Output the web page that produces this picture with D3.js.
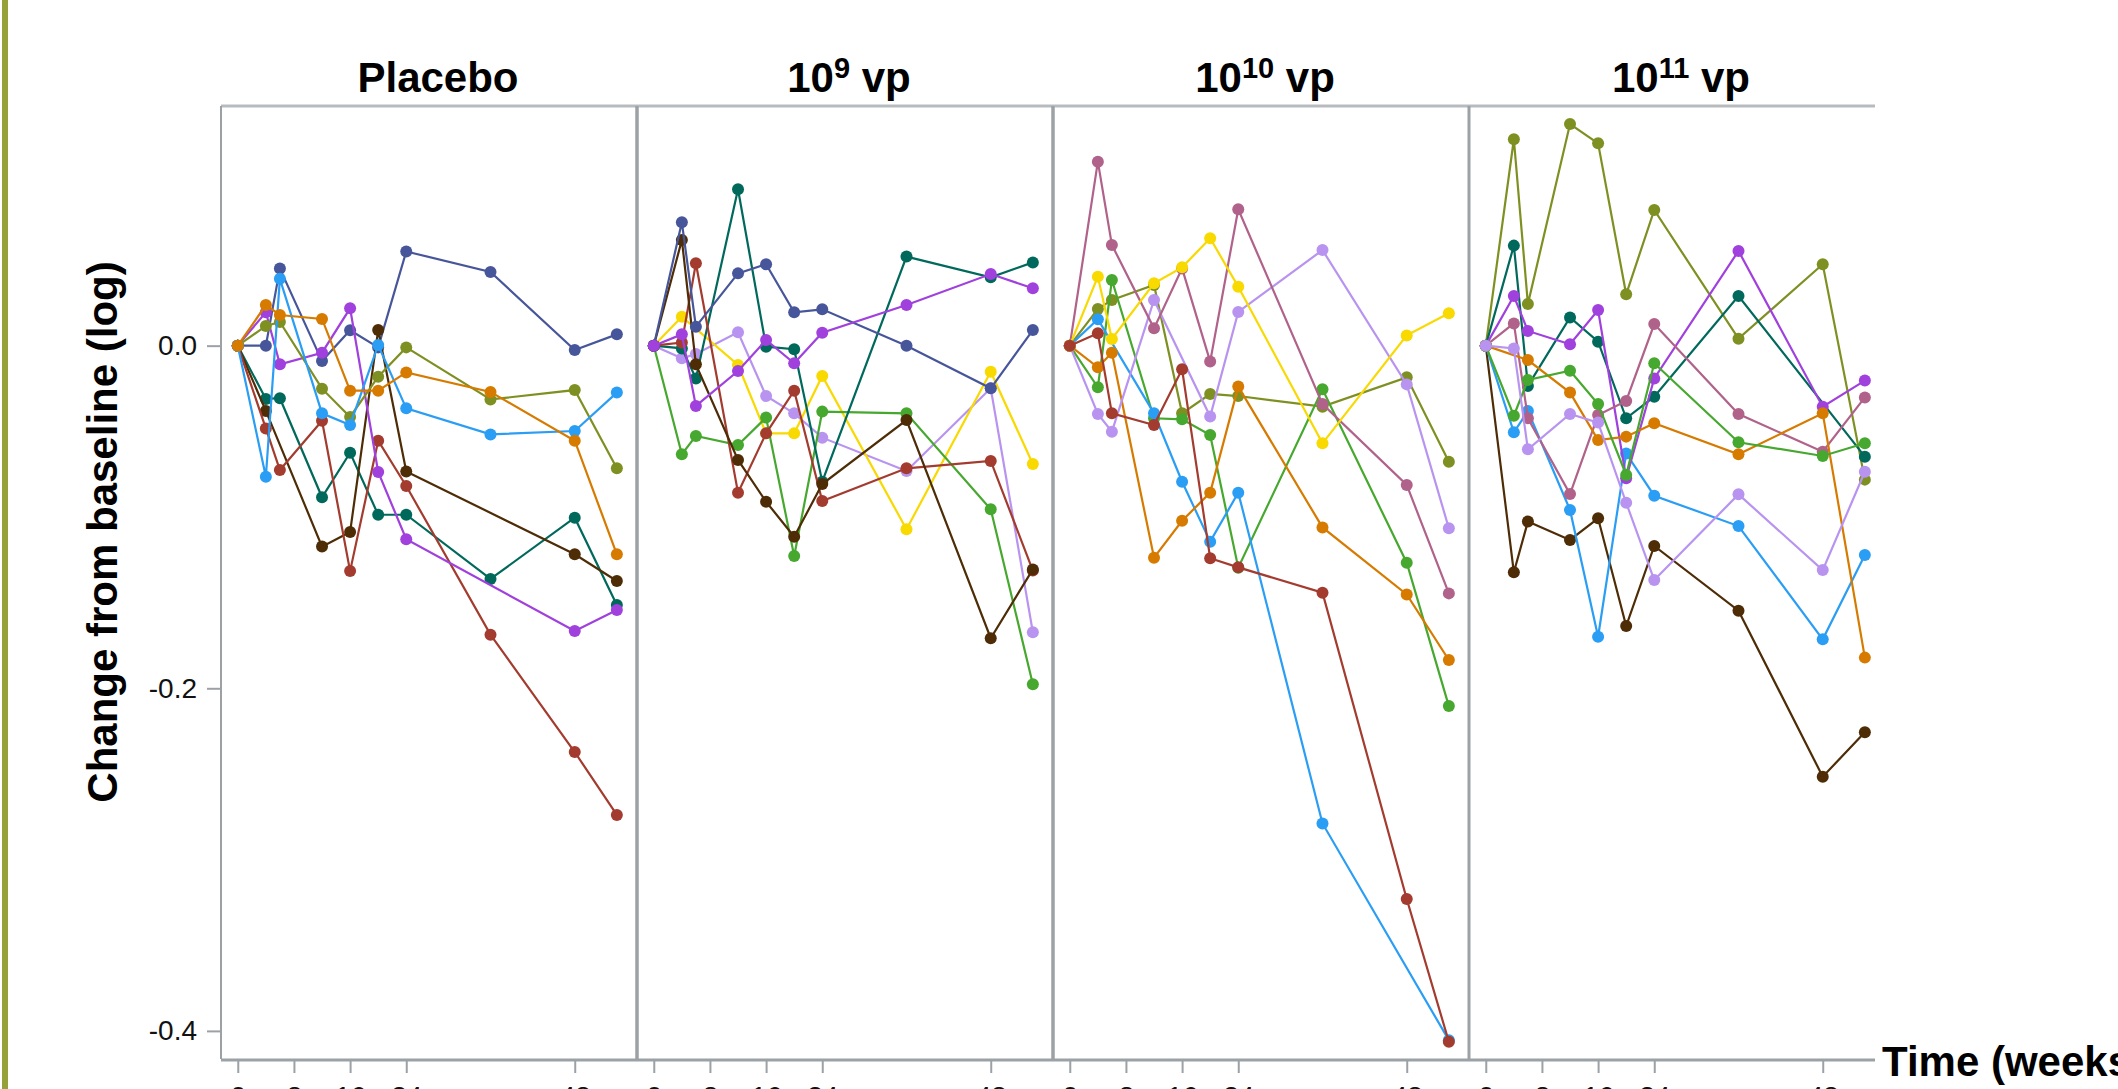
<!doctype html>
<html lang="en">
<head>
<meta charset="UTF-8" />
<title>Change from baseline</title>
<script src="https://d3js.org/d3.v7.min.js"></script>
<style>
    body, html {
        margin: 0;
        padding: 0;
        background: #ffffff;
        overflow: hidden;
    }
    svg {
        display: block;
        font-family: "Liberation Sans", Arial, sans-serif;
    }
</style>
</head>
<body>
<svg id="chart" width="2118" height="1089"></svg>
<script>
    // time points (weeks) shared by every subject
    const weeks = [0, 4, 6, 12, 16, 20, 24, 36, 48, 54];
    const xTicks = [0, 8, 16, 24, 48];
    const yTicks = [0, -0.2, -0.4];

    const panelNames = ["Placebo", "10", "10", "10"];
    const panelExponents = [null, "9", "10", "11"];

    // one entry per subject: [subject key, change from baseline per week]
    const placebo = [
        ["A", [0, 0, 0.045, -0.009, 0.009, -0.001, 0.055, 0.043, -0.0025, 0.0066]],
        ["F", [0, -0.0311, -0.0307, -0.0885, -0.0625, -0.0987, -0.0987, -0.1362, -0.1004, -0.1514]],
        ["G", [0, -0.0381, null, -0.1173, -0.1088, 0.0091, -0.0734, null, -0.1218, -0.1374]],
        ["H", [0, -0.0483, -0.0726, -0.0438, -0.1316, -0.0555, -0.0819, -0.1687, -0.2372, -0.2739]],
        ["E", [0, 0.0195, -0.0109, -0.0041, 0.0218, -0.0737, -0.113, null, -0.1666, -0.1543]],
        ["D", [0, 0.0115, 0.0138, -0.0251, -0.0416, -0.0181, -0.001, -0.0314, -0.0259, -0.0716]],
        ["B", [0, -0.0765, 0.039, -0.0395, -0.0463, 0.0004, -0.0366, -0.0518, -0.0498, -0.0274]],
        ["C", [0, 0.0237, 0.0179, 0.0156, -0.0263, -0.0263, -0.0156, -0.027, -0.0555, -0.1218]]
    ];

    const dose9 = [
        ["K", [0, -0.0074, -0.0049, 0.0078, -0.0294, -0.0395, -0.0537, -0.0732, -0.0249, -0.1673]],
        ["J", [0, 0.0169, null, -0.0113, -0.0512, -0.0512, -0.0177, -0.1072, -0.0152, -0.0691]],
        ["I", [0, -0.0634, -0.0527, -0.058, -0.042, -0.1228, -0.0385, -0.0395, -0.0955, -0.1977]],
        ["F", [0, -0.0016, -0.0191, 0.0913, -0.0006, -0.0021, -0.0794, 0.052, 0.0399, 0.0486]],
        ["H", [0, 0.0018, 0.0481, -0.0858, -0.0512, -0.0263, -0.0907, -0.0716, -0.0673, -0.1313]],
        ["G", [0, 0.0617, -0.0109, -0.0667, -0.0911, -0.1115, -0.0808, -0.0434, -0.1708, -0.1306]],
        ["A", [0, 0.072, 0.0111, 0.0422, 0.0475, 0.0195, 0.0212, 0, -0.0249, 0.0091]],
        ["E", [0, 0.0066, -0.0352, -0.0148, 0.0033, -0.0103, 0.0076, 0.0237, 0.0418, 0.0335]]
    ];

    const dose10 = [
        ["D", [0, 0.0214, 0.0267, 0.0354, -0.0395, -0.0282, -0.0294, -0.0356, -0.0185, -0.0677]],
        ["I", [0, -0.0243, 0.0383, -0.0424, -0.043, -0.0522, -0.1296, -0.0255, -0.1267, -0.2104]],
        ["B", [0, 0.0154, null, -0.0395, -0.0794, -0.1144, -0.0858, -0.2789, null, -0.4054]],
        ["C", [0, -0.0126, -0.0041, -0.1238, -0.1022, -0.0858, -0.0239, -0.1061, -0.1452, -0.1835]],
        ["K", [0, -0.0399, -0.0502, 0.0267, null, -0.0414, 0.0197, 0.0558, -0.0226, -0.1066]],
        ["L", [0, 0.1074, 0.0588, 0.0101, 0.0451, -0.0093, 0.0796, -0.0341, -0.0813, -0.1446]],
        ["J", [0, 0.0403, 0.0039, 0.0364, 0.0457, 0.0627, 0.0344, -0.057, 0.006, 0.0189]],
        ["H", [0, 0.0072, -0.0395, -0.0463, -0.0138, -0.1241, -0.1294, -0.1442, -0.323, -0.4063]]
    ];

    const dose11 = [
        ["G", [0, -0.1323, -0.1027, -0.1134, -0.1008, -0.1637, -0.1169, -0.1547, -0.2516, -0.2257]],
        ["B", [0, -0.0506, -0.0382, -0.0959, -0.1699, -0.0629, -0.0876, -0.1053, -0.1714, -0.1222]],
        ["D", [0, 0.1205, 0.0243, 0.1294, 0.1181, 0.03, 0.0792, 0.0041, 0.0475, -0.0782]],
        ["F", [0, 0.0584, -0.0235, 0.0165, 0.0023, -0.0424, -0.0298, 0.029, null, -0.0648]],
        ["E", [0, 0.029, 0.0086, 0.0008, 0.0208, -0.0774, -0.0191, 0.0553, -0.0356, -0.0204]],
        ["L", [0, 0.013, -0.0424, -0.0866, -0.0405, -0.0323, 0.0126, -0.0399, -0.0619, -0.0302]],
        ["C", [0, null, -0.0084, -0.0274, -0.0551, -0.0531, -0.0453, -0.0634, -0.0395, -0.1821]],
        ["I", [0, -0.0409, -0.02, -0.0146, -0.0341, -0.0755, -0.0103, -0.0564, -0.0644, -0.057]],
        ["K", [0, -0.0016, -0.0605, -0.0399, -0.0449, -0.0917, -0.1368, -0.0868, -0.131, -0.0736]]
    ];

    const panels = [placebo, dose9, dose10, dose11];

    const palette = {
        A: "#47569a",
        B: "#2a9df4",
        C: "#d67b00",
        D: "#7f9022",
        E: "#a040dd",
        F: "#00695c",
        G: "#4e2c06",
        H: "#a33b2f",
        I: "#46a82e",
        J: "#f8d900",
        K: "#b894f0",
        L: "#b0628a"
    };

    const svg = d3.select("#chart");
    const panelLeft = 221;
    const panelWidth = 416;
    const plotTop = 106;
    const plotBottom = 1059;
    const frame = "#9ca1a6";

    const x = d3.scaleLinear().domain([-2.39, 56.87]).range([0, panelWidth]);
    const y = d3.scaleLinear().domain([0.1399, -0.4164]).range([plotTop, plotBottom]);

    // olive strip on the left edge
    svg.append("rect")
        .attr("x", 2).attr("y", 0)
        .attr("width", 6).attr("height", 1089)
        .attr("fill", "#97a13a");

    // y axis
    const yAxis = svg.append("g")
        .attr("transform", `translate(${panelLeft},0)`)
        .call(d3.axisLeft(y).tickValues(yTicks).tickSize(14).tickPadding(10)
            .tickFormat(d => d.toFixed(1)));
    yAxis.select(".domain").remove();
    yAxis.selectAll("line").attr("stroke", frame).attr("stroke-width", 2);
    yAxis.selectAll("text").attr("font-size", 28).attr("fill", "#111");

    svg.append("text")
        .attr("transform", `translate(117,532) rotate(-90)`)
        .attr("text-anchor", "middle")
        .attr("font-size", 42)
        .attr("font-weight", "bold")
        .text("Change from baseline (log)");

    const line = d3.line()
        .x(d => x(d.t))
        .y(d => y(d.v));

    panels.forEach((subjects, i) => {
        const g = svg.append("g")
            .attr("transform", `translate(${panelLeft + i * panelWidth},0)`);
        const w = i === 3 ? 406 : panelWidth;

        // strip label
        const label = g.append("text")
            .attr("x", panelWidth / 2 + (i === 0 ? 9 : 4))
            .attr("y", 92)
            .attr("text-anchor", "middle")
            .attr("font-size", 42)
            .attr("font-weight", "bold")
            .text(panelNames[i]);
        if (panelExponents[i]) {
            label.append("tspan")
                .attr("font-size", 29)
                .attr("dy", -14)
                .text(panelExponents[i]);
            label.append("tspan")
                .attr("dy", 14)
                .text(" vp");
        }

        // frame
        g.append("line")
            .attr("x1", 0).attr("x2", w)
            .attr("y1", plotTop).attr("y2", plotTop)
            .attr("stroke", "#b8bbbe").attr("stroke-width", 3);
        g.append("line")
            .attr("x1", 0).attr("x2", 0)
            .attr("y1", plotTop).attr("y2", plotBottom)
            .attr("stroke", frame).attr("stroke-width", i === 0 ? 2 : 3);
        if (i < 2) {
            g.append("line")
                .attr("x1", panelWidth).attr("x2", panelWidth)
                .attr("y1", plotTop).attr("y2", plotBottom)
                .attr("stroke", frame).attr("stroke-width", 3);
        }

        // x axis
        const xAxis = g.append("g")
            .attr("transform", `translate(0,${plotBottom + 1})`)
            .call(d3.axisBottom(x).tickValues(xTicks).tickSize(13).tickPadding(13));
        xAxis.select(".domain").remove();
        xAxis.selectAll("line").attr("stroke", frame).attr("stroke-width", 2);
        xAxis.selectAll("text").attr("font-size", 28).attr("fill", "#111");
        g.append("line")
            .attr("x1", 0).attr("x2", w)
            .attr("y1", plotBottom + 1).attr("y2", plotBottom + 1)
            .attr("stroke", frame).attr("stroke-width", 3);

        subjects.forEach(([key, values]) => {
            const present = weeks
                .map((t, k) => ({ t: t, v: values[k] }))
                .filter(d => d.v !== null);
            g.append("path")
                .datum(present)
                .attr("fill", "none")
                .attr("stroke", palette[key])
                .attr("stroke-width", 2.2)
                .attr("d", line);
            g.selectAll(null)
                .data(present)
                .enter()
                .append("circle")
                .attr("cx", d => x(d.t))
                .attr("cy", d => y(d.v))
                .attr("r", 6)
                .attr("fill", palette[key]);
        });
    });

    svg.append("text")
        .attr("x", 1882)
        .attr("y", 1076)
        .attr("font-size", 42)
        .attr("font-weight", "bold")
        .text("Time (weeks)");
</script>
</body>
</html>
